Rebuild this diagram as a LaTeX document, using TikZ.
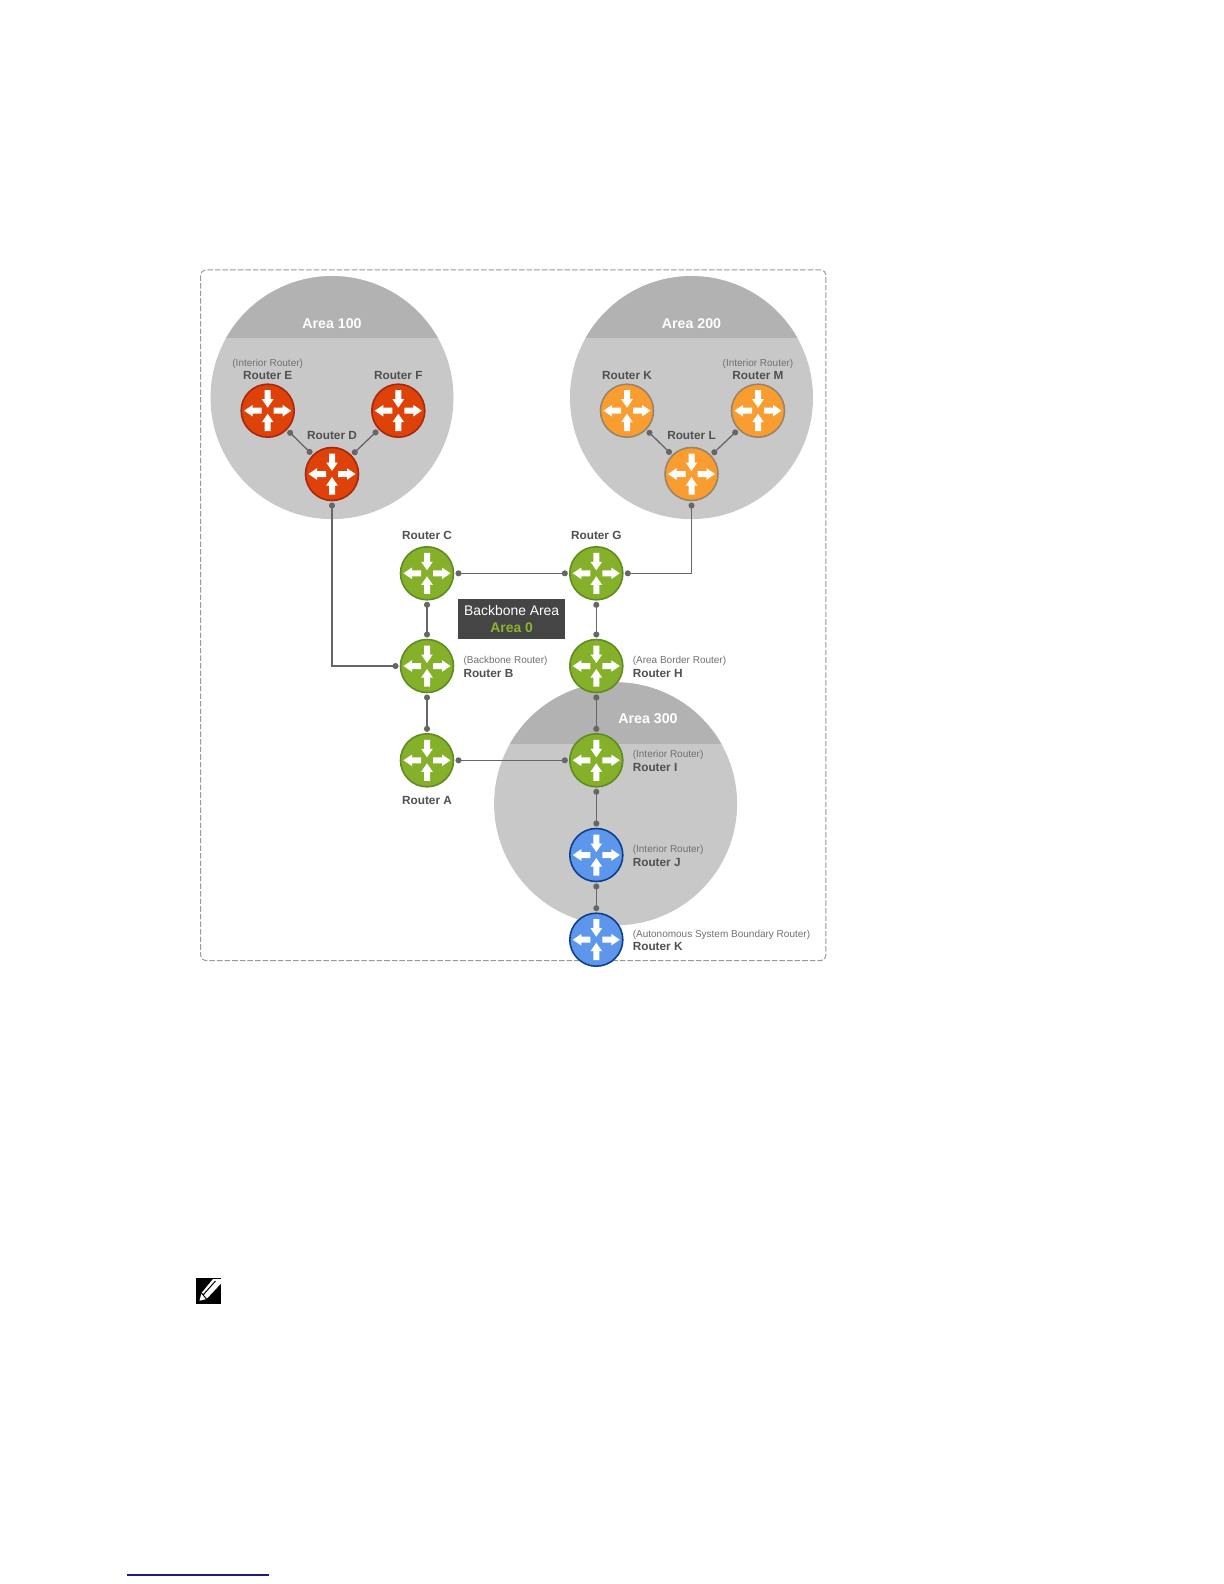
\documentclass[tikz,border=0pt]{standalone}
\usepackage{fontspec}
\setmainfont{Liberation Sans}
\usetikzlibrary{arrows.meta, positioning}

\definecolor{areafill}{HTML}{C8C8C8}
\definecolor{bandfill}{HTML}{B2B2B2}
\definecolor{framegray}{HTML}{9A9A9A}
\definecolor{linkgray}{HTML}{666666}
\definecolor{tagmain}{HTML}{505050}
\definecolor{tagsub}{HTML}{707070}
\definecolor{redfill}{HTML}{DE4208}
\definecolor{redline}{HTML}{A5280F}
\definecolor{orangefill}{HTML}{F99D31}
\definecolor{orangeline}{HTML}{9A8468}
\definecolor{greenfill}{HTML}{85B02A}
\definecolor{greenline}{HTML}{5F8C22}
\definecolor{bluefill}{HTML}{5D97EC}
\definecolor{blueline}{HTML}{0F3E8F}
\definecolor{boxdark}{HTML}{454545}
\definecolor{areagreen}{HTML}{8DB52B}
\definecolor{footblue}{HTML}{1B1B8E}

\newcommand{\subtag}[1]{{\fontsize{5bp}{6.85bp}\selectfont\mdseries\color{tagsub}#1}}
\newcommand{\routerglyph}{%
    \fill[white] (6,-3) -- (15,-3) -- (15,-5.8) -- (23.5,0) -- (15,5.8) -- (15,3) -- (6,3) -- cycle;
    \fill[white] (-6,-3) -- (-15,-3) -- (-15,-5.8) -- (-23.5,0) -- (-15,5.8) -- (-15,3) -- (-6,3) -- cycle;
    \fill[white] (-3,-20.5) -- (-3,-11.5) -- (-5.8,-11.5) -- (0,-3) -- (5.8,-11.5) -- (3,-11.5) -- (3,-20.5) -- cycle;
    \fill[white] (-3,20.5) -- (-3,11.5) -- (-5.8,11.5) -- (0,3) -- (5.8,11.5) -- (3,11.5) -- (3,20.5) -- cycle;
}

\begin{document}
\begin{tikzpicture}[
    x=0.5bp, y=-0.5bp,
    node distance=3.5bp and 4.8bp,
    area/.style={circle, fill=areafill, inner sep=0pt, minimum size=121.5bp,
        path picture={\fill[bandfill] ([shift={(-130,-130)}]path picture bounding box.center) rectangle ([shift={(130,-59.8)}]path picture bounding box.center);}},
    arealabel/.style={inner sep=0pt, text=white, font=\fontsize{7.1bp}{8bp}\selectfont\bfseries},
    router/.style={circle, draw=#1line, fill=#1fill, line width=0.8bp, inner sep=0pt, outer sep=0pt, minimum size=26.5bp,
        path picture={\begin{scope}[shift={(path picture bounding box.center)}]\routerglyph\end{scope}}},
    tag/.style={inner sep=0pt, align=center, text=tagmain, font=\fontsize{5.9bp}{6.85bp}\selectfont\bfseries},
    sidetag/.style={tag, align=left, yshift=-0.4bp},
    link/.style={draw=linkgray, line width=0.65bp, {Circle[length=3bp]}-{Circle[length=3bp]}, shorten <=1bp, shorten >=1bp}
]
\useasboundingbox (0,0) rectangle (1224,1584);

% frame and areas
\node [draw=framegray, line width=0.5bp, dash pattern=on 2.8bp off 1bp, rounded corners=2.5bp, inner sep=0pt, minimum width=312.6bp, minimum height=345.3bp] (frame) at (513.3,615.3) {};
\node [area] (area100) at (332,397.6) {};
\node [area] (area200) at (691.5,397.6) {};
\node [area] (area300) at (615.6,803.8) {};
\node [arealabel] (lab100) at (332,323.3) {Area 100};
\node [arealabel] (lab200) at (691.5,323.3) {Area 200};
\node [arealabel] (lab300) at (648,719) {Area 300};

% routers
\node [router=red] (rte) at (267.7,410.7) {};
\node [router=red] (rtf) at (398.3,410.7) {};
\node [router=red] (rtd) at (332,474) {};
\node [router=orange] (rtk) at (627,410.7) {};
\node [router=orange] (rtm) at (758,410.7) {};
\node [router=orange] (rtl) at (691.5,474) {};
\node [router=green] (rtc) at (427,573.3) {};
\node [router=green] (rtg) at (596.3,573.3) {};
\node [router=green] (rtb) at (427,666) {};
\node [router=green] (rth) at (596.3,666) {};
\node [router=green] (rta) at (427,760.3) {};
\node [router=green] (rti) at (596.3,760.3) {};
\node [router=blue] (rtj) at (596.3,855) {};
\node [router=blue] (rtx) at (596.3,939.7) {};

% connectors
\path [link] (rte) -- (rtd);
\path [link] (rtf) -- (rtd);
\path [link] (rtk) -- (rtl);
\path [link] (rtm) -- (rtl);
\path [link] (rtd) |- (rtb);
\path [link] (rtg) -| (rtl);
\path [link] (rtc) -- (rtg);
\path [link] (rtc) -- (rtb);
\path [link] (rtg) -- (rth);
\path [link] (rtb) -- (rta);
\path [link] (rth) -- (rti);
\path [link] (rta) -- (rti);
\path [link] (rti) -- (rtj);
\path [link] (rtj) -- (rtx);

% labels
\node [tag, above=1.85bp of rte] (tage) {\subtag{(Interior Router)}\\Router E};
\node [tag, above=1.85bp of rtf] (tagf) {Router F};
\node [tag, above=of rtd] (tagd) {Router D};
\node [tag, above=1.85bp of rtk] (tagk) {Router K};
\node [tag, above=1.85bp of rtm] (tagm) {\subtag{(Interior Router)}\\Router M};
\node [tag, above=of rtl] (tagl) {Router L};
\node [tag, above=of rtc] (tagc) {Router C};
\node [tag, above=of rtg] (tagg) {Router G};
\node [tag, below=4.6bp of rta] (taga) {Router A};
\node [sidetag, right=of rtb] (tagb) {\subtag{(Backbone Router)}\\Router B};
\node [sidetag, right=of rth] (tagh) {\subtag{(Area Border Router)}\\Router H};
\node [sidetag, right=of rti] (tagi) {\subtag{(Interior Router)}\\Router I};
\node [sidetag, right=of rtj] (tagj) {\subtag{(Interior Router)}\\Router J};
\node [sidetag, right=of rtx] (tagx) {\subtag{(Autonomous System Boundary Router)}\\Router K};

\node [fill=boxdark, inner sep=0pt, minimum width=53.4bp, minimum height=19.8bp, align=center, text=white,
    font=\fontsize{6.95bp}{8.7bp}\selectfont] (backbone) at (511.7,619.2) {Backbone Area\\{\bfseries\color{areagreen}Area 0}};

% note icon and footnote rule
\fill (196,1278) rectangle (220.7,1304);
\fill [white] (199.5,1300.8) -- (201.5,1293) -- (213,1279) -- (221,1279) -- (221,1283.5) -- (206.5,1299) -- cycle;
\draw [black, line width=0.5bp] (203,1295) -- (215.5,1281);
\draw [black, line width=0.5bp] (201.5,1293) -- (206.5,1299);
\draw [footblue, line width=0.6bp] (126.7,1575) -- (269,1575);

\end{tikzpicture}
\end{document}
